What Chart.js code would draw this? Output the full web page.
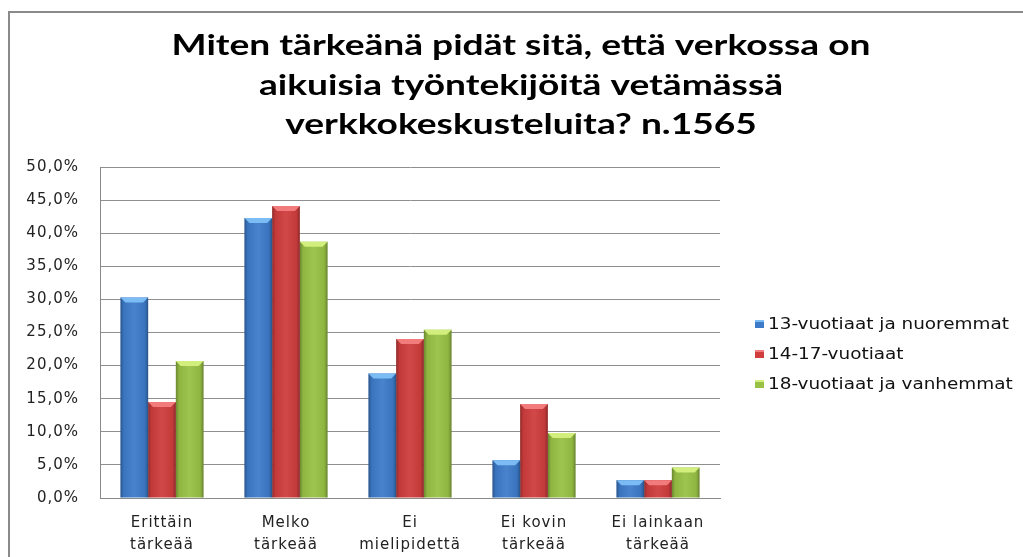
<!DOCTYPE html>
<html>
<head>
<meta charset="utf-8">
<script src="https://cdn.jsdelivr.net/npm/chart.js@4"></script>
<style>
  html, body { margin: 0; padding: 0; background: #fff; }
  #wrap { width: 1023px; height: 557px; }
</style>
</head>
<body>
<div id="wrap"><canvas id="chart_canvas" width="1023" height="557"></canvas></div>
<script>
// chart data
var titleLines = ['Miten tärkeänä pidät sitä, että verkossa on', 'aikuisia työntekijöitä vetämässä', 'verkkokeskusteluita? n.1565'];
var categories = [['Erittäin', 'tärkeää'], ['Melko', 'tärkeää'], ['Ei', 'mielipidettä'], ['Ei kovin', 'tärkeää'], ['Ei lainkaan', 'tärkeää']];
var seriesNames = ['13-vuotiaat ja nuoremmat', '14-17-vuotiaat', '18-vuotiaat ja vanhemmat'];
var young = [30.3, 42.3, 18.8, 5.7, 2.7];
var middle = [14.5, 44.1, 24.0, 14.2, 2.7];
var older = [20.7, 38.7, 25.4, 9.8, 4.6];
var yMax = 50;
var yStep = 5;

var colors = ['#3d7bc9', '#cf3d3d', '#98c145'];
var caps = ['#7bbcf5', '#f27c7c', '#d2ee7c'];

var smallFont = "'DejaVu Sans', sans-serif";

// the picture is a bit stretched sideways, so text gets some extra width
function widenText(chart) {
    chart.ctx.letterSpacing = '1px';
}

// frame, title and legend are drawn here so the plot area can sit where it does in the picture
var decorPlugin = {
    id: 'decor',
    beforeUpdate: widenText,
    beforeDraw: function(chart) {
        widenText(chart);
        var ctx = chart.ctx;
        ctx.save();
        ctx.fillStyle = '#fff';
        ctx.fillRect(0, 0, chart.width, chart.height);
        ctx.strokeStyle = '#8a8a8a';
        ctx.lineWidth = 2;
        ctx.strokeRect(9, 12, chart.width + 20, chart.height + 20);
        ctx.restore();
    },
    afterDatasetsDraw: function(chart) {
        // bevel look of the bars
        var ctx = chart.ctx;
        ctx.save();
        chart.data.datasets.forEach(function(ds, i) {
            var meta = chart.getDatasetMeta(i);
            meta.data.forEach(function(bar) {
                var p = bar.getProps(['x', 'y', 'base', 'width'], true);
                var l = p.x - p.width / 2, r = p.x + p.width / 2;
                var g = ctx.createLinearGradient(l, 0, r, 0);
                g.addColorStop(0, 'rgba(0,0,0,0.30)');
                g.addColorStop(0.12, 'rgba(0,0,0,0.06)');
                g.addColorStop(0.5, 'rgba(255,255,255,0.06)');
                g.addColorStop(0.88, 'rgba(0,0,0,0.06)');
                g.addColorStop(1, 'rgba(0,0,0,0.32)');
                ctx.fillStyle = g;
                ctx.fillRect(l, p.y, p.width, p.base - p.y);
                var c = Math.min(5, (p.base - p.y) / 2);
                ctx.beginPath();
                ctx.moveTo(l, p.y);
                ctx.lineTo(r, p.y);
                ctx.lineTo(r - c, p.y + c);
                ctx.lineTo(l + c, p.y + c);
                ctx.closePath();
                ctx.fillStyle = caps[i];
                ctx.fill();
            });
        });
        ctx.restore();
    },
    afterDraw: function(chart) {
        var ctx = chart.ctx;
        ctx.save();
        ctx.letterSpacing = '0px';
        // title
        ctx.fillStyle = '#000';
        ctx.font = "bold 29px Lato, sans-serif";
        ctx.textAlign = 'center';
        ctx.textBaseline = 'alphabetic';
        titleLines.forEach(function(t, i) {
            ctx.save();
            ctx.translate(521, 55 + i * 39.5);
            ctx.scale(1.28, 1);
            ctx.fillText(t, 0, 0);
            ctx.restore();
        });
        // legend
        ctx.textAlign = 'left';
        ctx.textBaseline = 'middle';
        ctx.font = "16px " + smallFont;
        chart.data.datasets.forEach(function(ds, i) {
            var y = 324 + i * 30;
            ctx.fillStyle = ds.backgroundColor;
            ctx.fillRect(755, y - 4, 9, 8);
            ctx.fillStyle = caps[i];
            ctx.fillRect(755, y - 4, 9, 2);
            ctx.fillStyle = '#111';
            ctx.save();
            ctx.translate(768, y + 1);
            ctx.scale(1.15, 1);
            ctx.fillText(ds.label, 0, 0);
            ctx.restore();
        });
        ctx.restore();
    }
};

var datasets = [young, middle, older].map(function(vals, i) {
    return {
        label: seriesNames[i],
        data: vals,
        backgroundColor: colors[i],
        borderWidth: 0,
        categoryPercentage: 0.67,
        barPercentage: 1.0
    };
});

new Chart(document.getElementById('chart_canvas').getContext('2d'), {
    type: 'bar',
    data: { labels: categories, datasets: datasets },
    plugins: [decorPlugin],
    options: {
        responsive: false,
        animation: false,
        layout: { padding: { top: 167, right: 303, left: 0, bottom: 0 } },
        plugins: {
            legend: { display: false },
            title: { display: false },
            tooltip: { enabled: false }
        },
        scales: {
            x: {
                grid: { display: false, drawTicks: false },
                border: { color: '#8a8a8a', width: 1 },
                ticks: {
                    color: '#222',
                    font: { family: smallFont, size: 15, lineHeight: 1.45 },
                    padding: 14,
                    maxRotation: 0,
                    autoSkip: false
                },
                afterFit: function(scale) { scale.height = 59; }
            },
            y: {
                min: 0,
                max: yMax,
                grid: { color: '#8f8f8f', lineWidth: 1, drawTicks: false },
                border: { color: '#8a8a8a', width: 1 },
                ticks: {
                    stepSize: yStep,
                    color: '#222',
                    padding: 21,
                    font: { family: smallFont, size: 15 },
                    callback: function(v) { return v.toFixed(1).replace('.', ',') + '%'; }
                },
                afterFit: function(scale) { scale.width = 100; }
            }
        }
    }
});
</script>
</body>
</html>
